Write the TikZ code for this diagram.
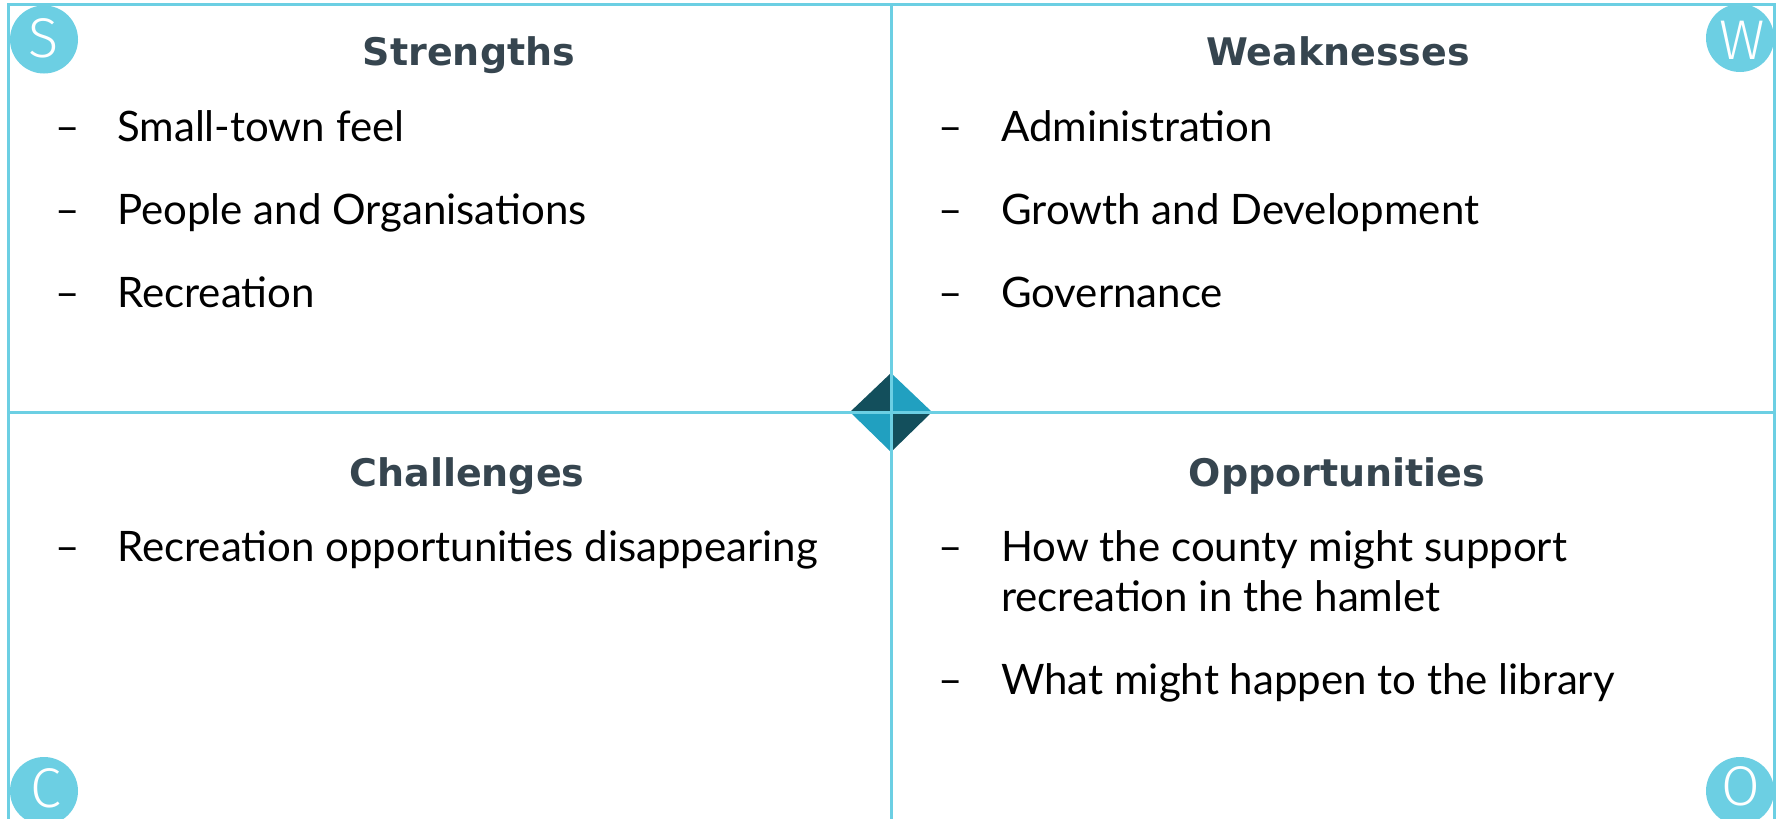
\documentclass[tikz,border=0pt]{standalone}
\usepackage{fontspec}
\setmainfont{Lato}
\newfontfamily\headfont{DejaVu Sans}
\newfontfamily\letterfont{Fira Sans Light}
\definecolor{linecol}{HTML}{6CCFE3}
\definecolor{headcol}{HTML}{36454F}
\definecolor{darktri}{HTML}{134F5C}
\definecolor{lighttri}{HTML}{21A0C0}
\tikzset{
  frameline/.style={draw=linecol, line width=3pt},
  heading/.style={anchor=base, text=headcol, inner sep=0pt, font=\headfont\bfseries\fontsize{38}{46}\selectfont},
  bodytext/.style={anchor=base west, text=black, inner sep=0pt, font=\fontsize{42}{50}\selectfont},
  dashmark/.style={anchor=base west, text=black, inner sep=0pt, font=\fontsize{42}{50}\selectfont},
  corner/.style={circle, fill=linecol, minimum size=68pt, inner sep=0pt},
  cornerletter/.style={text=white, inner sep=0pt, anchor=base, font=\letterfont\fontsize{56}{60}\selectfont}
}
\begin{document}
\begin{tikzpicture}[x=1pt,y=-1pt]
\useasboundingbox (0,0) rectangle (1783,819);
\fill[white] (0,0) rectangle (1783,819);
% frame
\coordinate (tl) at (8.5,4.5);
\coordinate (tr) at (1774,4.5);
\coordinate (bl) at (8.5,819);
\coordinate (br) at (1774,819);
\coordinate (tm) at (891,4.5);
\coordinate (bm) at (891,819);
\coordinate (lm) at (8.5,412);
\coordinate (rm) at (1774,412);
\coordinate (cc) at (891,412);
% diamond
\coordinate (dT) at (891,373);
\coordinate (dR) at (932,412);
\coordinate (dB) at (891,452);
\coordinate (dL) at (850,412);
\fill[darktri] (dL) -- (dT) -- (cc) -- cycle;
\fill[lighttri] (dT) -- (dR) -- (cc) -- cycle;
\fill[lighttri] (dL) -- (dB) -- (cc) -- cycle;
\fill[darktri] (dB) -- (dR) -- (cc) -- cycle;
\draw[frameline] (bl) -- (tl) -- (tr) -- (br);
\draw[frameline] (tm) -- (bm);
\draw[frameline] (lm) -- (rm);
% corner circles
\node[corner] (cS) at (44,39.5) {};
\node[corner] (cW) at (1740,38) {};
\node[corner] (cC) at (44,791) {};
\node[corner] (cO) at (1740,791) {};
\node[cornerletter] (lS) at (44,57) {S};
\node[cornerletter] (lW) at (1742,59) {W};
\node[cornerletter] (lC) at (46,807) {C};
\node[cornerletter] (lO) at (1741,805) {O};
% headings
\node[heading] (hS) at (469,65) {Strengths};
\node[heading] (hW) at (1338,65) {Weaknesses};
\node[heading] (hC) at (467,486) {Challenges};
\node[heading] (hO) at (1337,486) {Opportunities};
% strengths
\node[dashmark] (s1d) at (55,141) {–};
\node[bodytext] (s1) at (117,141) {Small-town feel};
\node[dashmark] (s2d) at (55,224) {–};
\node[bodytext] (s2) at (117,224) {People and Organisations};
\node[dashmark] (s3d) at (55,307) {–};
\node[bodytext] (s3) at (117,307) {Recreation};
% weaknesses
\node[dashmark] (w1d) at (938,141) {–};
\node[bodytext] (w1) at (1001,141) {Administration};
\node[dashmark] (w2d) at (938,224) {–};
\node[bodytext] (w2) at (1001,224) {Growth and Development};
\node[dashmark] (w3d) at (938,307) {–};
\node[bodytext] (w3) at (1001,307) {Governance};
% challenges
\node[dashmark] (c1d) at (55,561) {–};
\node[bodytext] (c1) at (117,561) {Recreation opportunities disappearing};
% opportunities
\node[dashmark] (o1d) at (938,561) {–};
\node[bodytext] (o1a) at (1001,561) {How the county might support};
\node[bodytext] (o1b) at (1001,611) {recreation in the hamlet};
\node[dashmark] (o2d) at (938,694) {–};
\node[bodytext] (o2) at (1001,694) {What might happen to the library};
\end{tikzpicture}
\end{document}
